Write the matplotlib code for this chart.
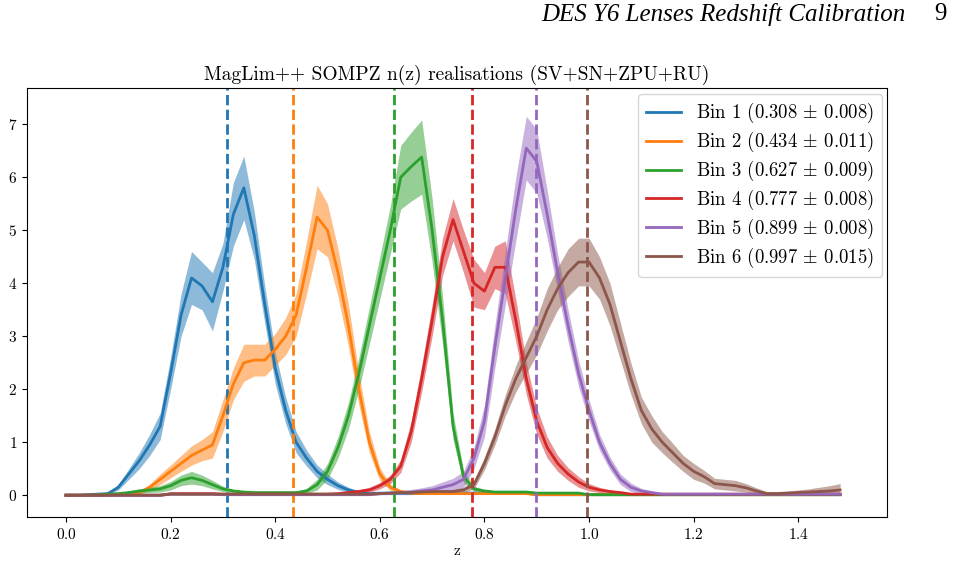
import numpy as np
import matplotlib
matplotlib.use("Agg")
import matplotlib.pyplot as plt

plt.rcParams['font.family'] = ['cmr10', 'DejaVu Serif']
plt.rcParams['mathtext.fontset'] = 'cm'
plt.rcParams['axes.formatter.use_mathtext'] = True

z = np.arange(75) * 0.02

bin1 = [0, 0, 0.01, 0.02, 0.03, 0.15, 0.4, 0.65, 0.95, 1.3,
        2.3, 3.4, 4.1, 3.95, 3.65, 4.3, 5.3, 5.8, 4.9, 3.6,
        2.4, 1.6, 1.0, 0.7, 0.45, 0.3, 0.18, 0.1, 0.05, 0.03] + [0.04] * 15 + [0.01] * 30
err1 = [0, 0, 0.01, 0.01, 0.02, 0.05, 0.1, 0.15, 0.2, 0.25,
        0.3, 0.4, 0.5, 0.45, 0.55, 0.45, 0.6, 0.6, 0.45, 0.35,
        0.3, 0.25, 0.2, 0.15, 0.12, 0.1, 0.07, 0.05, 0.03, 0.02] + [0.02] * 15 + [0.01] * 30

bin2 = [0, 0, 0, 0, 0.01, 0.02, 0.03, 0.05, 0.15, 0.3,
        0.45, 0.6, 0.75, 0.85, 0.95, 1.5, 2.1, 2.5, 2.55, 2.55,
        2.75, 3.0, 3.4, 4.3, 5.25, 5.0, 4.2, 3.2, 2.0, 1.0,
        0.4, 0.15, 0.07, 0.04] + [0.03] * 11 + [0.01] * 30
err2 = [0, 0, 0, 0, 0.01, 0.01, 0.02, 0.03, 0.06, 0.1,
        0.12, 0.15, 0.18, 0.2, 0.25, 0.3, 0.3, 0.35, 0.3, 0.3,
        0.3, 0.35, 0.4, 0.5, 0.6, 0.5, 0.45, 0.4, 0.3, 0.2,
        0.12, 0.06, 0.03, 0.02] + [0.01] * 41

bin3 = [0, 0, 0, 0.01, 0.02, 0.03, 0.05, 0.08, 0.1, 0.12,
        0.18, 0.28, 0.33, 0.28, 0.2, 0.12, 0.08, 0.06] + [0.05] * 5 + [
        0.08, 0.2, 0.45, 0.9, 1.5, 2.3, 3.2, 4.1, 5.0, 6.0,
        6.2, 6.38, 5.0, 3.3, 1.3, 0.35, 0.12, 0.08] + [0.06] * 4 + [0.04] * 5 + [0.01] * 25
err3 = [0, 0, 0, 0.01, 0.01, 0.02, 0.03, 0.04, 0.05, 0.06,
        0.08, 0.1, 0.12, 0.1, 0.08, 0.05, 0.03, 0.02] + [0.02] * 5 + [
        0.05, 0.1, 0.15, 0.2, 0.25, 0.3, 0.35, 0.4, 0.45, 0.6,
        0.65, 0.7, 0.6, 0.45, 0.25, 0.12, 0.05, 0.03] + [0.02] * 9 + [0.01] * 25

bin4 = [0] * 10 + [0.03] * 5 + [0.02] * 11 + [
        0.03, 0.05, 0.07, 0.1, 0.18, 0.3, 0.55, 1.2, 2.2, 3.3,
        4.5, 5.2, 4.6, 4.0, 3.85, 4.3, 4.3, 3.3, 2.2, 1.4,
        0.9, 0.6, 0.4, 0.25, 0.15, 0.1, 0.07, 0.05] + [0.02] * 21
err4 = [0] * 10 + [0.01] * 16 + [
        0.02, 0.03, 0.04, 0.05, 0.06, 0.08, 0.12, 0.2, 0.25, 0.3,
        0.35, 0.4, 0.4, 0.45, 0.35, 0.4, 0.5, 0.4, 0.3, 0.25,
        0.2, 0.15, 0.12, 0.1, 0.07, 0.05, 0.03, 0.02] + [0.01] * 21

bin5 = [0] * 10 + [0.02] * 5 + [0.01] * 15 + [
        0.03, 0.04, 0.05, 0.06, 0.08, 0.1,
        0.15, 0.2, 0.3, 0.7, 1.4, 2.8, 4.1, 5.4, 6.55, 6.3,
        5.3, 4.2, 3.2, 2.3, 1.6, 1.0, 0.6, 0.3, 0.15, 0.08, 0.05] + [0.02] * 18
err5 = [0.01] * 30 + [
        0.02, 0.03, 0.04, 0.05, 0.06, 0.08,
        0.1, 0.12, 0.15, 0.2, 0.3, 0.4, 0.5, 0.6, 0.6, 0.6,
        0.45, 0.35, 0.3, 0.25, 0.2, 0.15, 0.12, 0.1, 0.08, 0.05, 0.03] + [0.01] * 18

bin6 = [0] * 10 + [0.02] * 20 + [
        0.03, 0.04, 0.05, 0.05, 0.06, 0.07,
        0.07, 0.07, 0.1, 0.2, 0.6, 1.1, 1.7, 2.2, 2.6, 3.0,
        3.5, 3.9, 4.2, 4.4, 4.4, 4.1, 3.6, 2.9, 2.2, 1.6,
        1.25, 1.0, 0.8, 0.6, 0.45, 0.35, 0.22, 0.2, 0.18, 0.14,
        0.08, 0.03, 0.03, 0.04, 0.05, 0.06, 0.07, 0.08, 0.1]
err6 = [0.01] * 30 + [0.02] * 6 + [
        0.03, 0.04, 0.05, 0.08, 0.12, 0.15, 0.2, 0.25, 0.3, 0.35,
        0.4, 0.4, 0.45, 0.45, 0.45, 0.4, 0.4, 0.35, 0.3, 0.25,
        0.25, 0.2, 0.18, 0.15, 0.15, 0.12, 0.1, 0.1, 0.1, 0.08,
        0.06, 0.04, 0.04, 0.04, 0.05, 0.06, 0.08, 0.1, 0.12]

means = [0.308, 0.434, 0.627, 0.777, 0.899, 0.997]
sigmas = ["0.008", "0.011", "0.009", "0.008", "0.008", "0.015"]
colors = ["#1f77b4", "#ff7f0e", "#2ca02c", "#d62728", "#9467bd", "#8c564b"]

bins = [bin1, bin2, bin3, bin4, bin5, bin6]
errs = [err1, err2, err3, err4, err5, err6]

fig = plt.figure(figsize=(9.56, 5.69), dpi=100)
ax = fig.add_axes([0.028, 0.091, 0.9, 0.754])

for i in range(6):
    m = np.array(bins[i])
    e = np.array(errs[i])
    ax.fill_between(z, np.maximum(m - e, 0), m + e, color=colors[i], alpha=0.5, lw=0)
    ax.plot(z, m, color=colors[i], lw=2,
            label="Bin %d (%.3f $\\pm$ %s)" % (i + 1, means[i], sigmas[i]))
    ax.axvline(means[i], color=colors[i], ls="--", lw=2)

ax.set_xlim(-0.075, 1.57)
ax.set_ylim(-0.415, 7.68)
ax.set_xlabel("z", fontsize=11, labelpad=2)
ax.set_title("MagLim++ SOMPZ n(z) realisations (SV+SN+ZPU+RU)", fontsize=14)
ax.tick_params(labelsize=11)
ax.legend(loc="upper right", fontsize=13.5, handlelength=1.9, labelspacing=0.25,
          borderaxespad=0.3)

fig.text(0.947, 0.975, "DES Y6 Lenses Redshift Calibration", ha="right", va="center",
         fontsize=18, style="italic", family="Liberation Serif")
fig.text(0.99, 0.975, "9", ha="right", va="center", fontsize=18, family="Liberation Serif")

fig.savefig("out.png", dpi=100)
